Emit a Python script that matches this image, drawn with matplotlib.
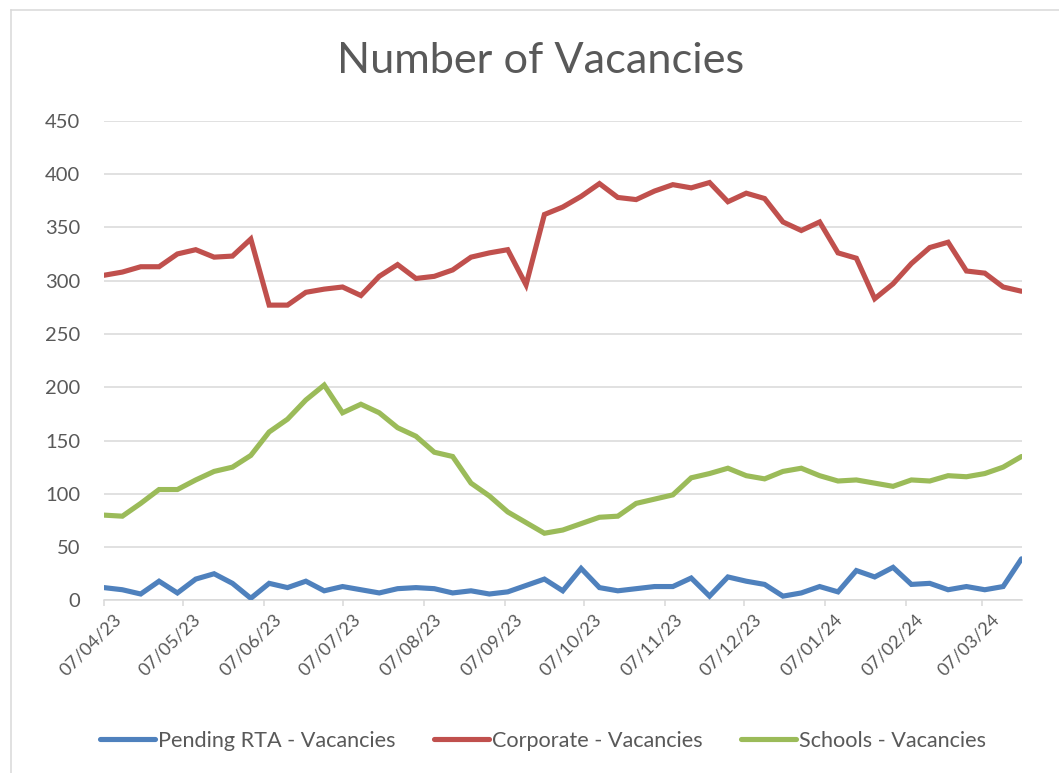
import matplotlib
matplotlib.use("Agg")
import matplotlib.pyplot as plt
import matplotlib.dates as mdates
import matplotlib.transforms as mtransforms
import numpy as np
import pandas as pd

# ---- data ----
start_date = "2023-04-07"
n_weeks = 51
dates = pd.date_range(start_date, periods=n_weeks, freq="7D")

pending_rta = [12, 10, 6, 18, 7, 20, 25, 16, 2, 16, 12, 18, 9, 13, 10, 7, 11, 12,
               11, 7, 9, 6, 8, 14, 20, 9, 30, 12, 9, 11, 13, 13, 21, 4, 22, 18,
               15, 4, 7, 13, 8, 28, 22, 31, 15, 16, 10, 13, 10, 13, 39]
corporate = [305, 308, 313, 313, 325, 329, 322, 323, 339, 277, 277, 289, 292, 294,
             286, 304, 315, 302, 304, 310, 322, 326, 329, 296, 362, 369, 379, 391,
             378, 376, 384, 390, 387, 392, 374, 382, 377, 355, 347, 355, 326, 321,
             283, 297, 316, 331, 336, 309, 307, 294, 290]
schools = [80, 79, 91, 104, 104, 113, 121, 125, 136, 158, 170, 188, 202, 176, 184,
           176, 162, 154, 139, 135, 110, 98, 83, 73, 63, 66, 72, 78, 79, 91, 95,
           99, 115, 119, 124, 117, 114, 121, 124, 117, 112, 113, 110, 107, 113,
           112, 117, 116, 119, 125, 135]

series_names = ["Pending RTA - Vacancies", "Corporate - Vacancies", "Schools - Vacancies"]
series_values = [pending_rta, corporate, schools]
series_colors = ["#4F81BD", "#C0504D", "#9BBB59"]

title_text = "Number of Vacancies"
y_ticks = [0, 50, 100, 150, 200, 250, 300, 350, 400, 450]
x_tick_labels = ["07/04/23", "07/05/23", "07/06/23", "07/07/23", "07/08/23",
                 "07/09/23", "07/10/23", "07/11/23", "07/12/23", "07/01/24",
                 "07/02/24", "07/03/24"]
x_tick_dates = pd.to_datetime(x_tick_labels, format="%d/%m/%y")

# ---- figure ----
W, H = 1059, 773
DPI = 100
FONT = "Lato"
TXT = "#595959"
GRID = "#D9D9D9"

fig = plt.figure(figsize=(W / DPI, H / DPI), dpi=DPI)
fig.patch.set_facecolor("white")

left, right, top, bottom = 104, 1021.5, 120.7, 600.4
ax = fig.add_axes([left / W, 1 - bottom / H, (right - left) / W, (bottom - top) / H])

renderer = fig.canvas.get_renderer()


def fit_size(text, target_px, base=20):
    t = fig.text(0, 0, text, fontsize=base, family=FONT)
    w = t.get_window_extent(renderer=renderer).width
    t.remove()
    return base * target_px / w


for name, vals, col in zip(series_names, series_values, series_colors):
    ax.plot(dates, vals, color=col, lw=3.7, solid_capstyle="round",
            solid_joinstyle="miter", label=name, zorder=3)

ax.set_xlim(dates[0], dates[-1])
ax.set_ylim(0, 450)
ax.set_yticks(y_ticks)
ax.grid(axis="y", color=GRID, lw=1.1, zorder=0)
ax.set_axisbelow(True)
for s in ["left", "right", "top"]:
    ax.spines[s].set_visible(False)
ax.spines["bottom"].set_color(GRID)
ax.spines["bottom"].set_linewidth(1.1)

tick_fs = fit_size("450", 35)
ax.tick_params(axis="y", length=0, pad=17, labelsize=tick_fs, labelcolor=TXT)
for lab in ax.get_yticklabels():
    lab.set_family(FONT)

ax.set_xticks(mdates.date2num(x_tick_dates))
ax.set_xticklabels(x_tick_labels)
xfs = tick_fs * 0.9
ax.tick_params(axis="x", direction="out", length=4, width=1.1, color=GRID,
               labelsize=xfs, labelcolor=TXT, pad=2)
offset = mtransforms.ScaledTranslation(15 / DPI, -8 / DPI, fig.dpi_scale_trans)
for lab in ax.get_xticklabels():
    lab.set_family(FONT)
    lab.set_rotation(45)
    lab.set_ha("right")
    lab.set_va("center")
    lab.set_rotation_mode("anchor")
    lab.set_transform(lab.get_transform() + offset)

# title
title_fs = fit_size(title_text, 408)
fig.text(541 / W, 1 - 73.3 / H, title_text, fontsize=title_fs, family=FONT,
         color=TXT, ha="center", va="baseline")

# legend
leg_fs = fit_size(series_names[0], 238)
handle_px = 55
leg = fig.legend(loc="center", bbox_to_anchor=(543 / W, 1 - 741 / H), ncol=3,
                 frameon=False, prop={"family": FONT, "size": leg_fs},
                 handlelength=handle_px / (leg_fs * DPI / 72),
                 handletextpad=0.15, columnspacing=1.75, borderpad=0)
for t in leg.get_texts():
    t.set_color(TXT)

# chart border (left and top visible)
fig.add_artist(plt.Line2D([10.5 / W, 10.5 / W], [0, 1 - 9.5 / H],
                          transform=fig.transFigure, color=GRID, lw=1.1))
fig.add_artist(plt.Line2D([10.5 / W, 1], [1 - 9.5 / H, 1 - 9.5 / H],
                          transform=fig.transFigure, color=GRID, lw=1.1))

fig.savefig("out.png", dpi=DPI, facecolor="white")
